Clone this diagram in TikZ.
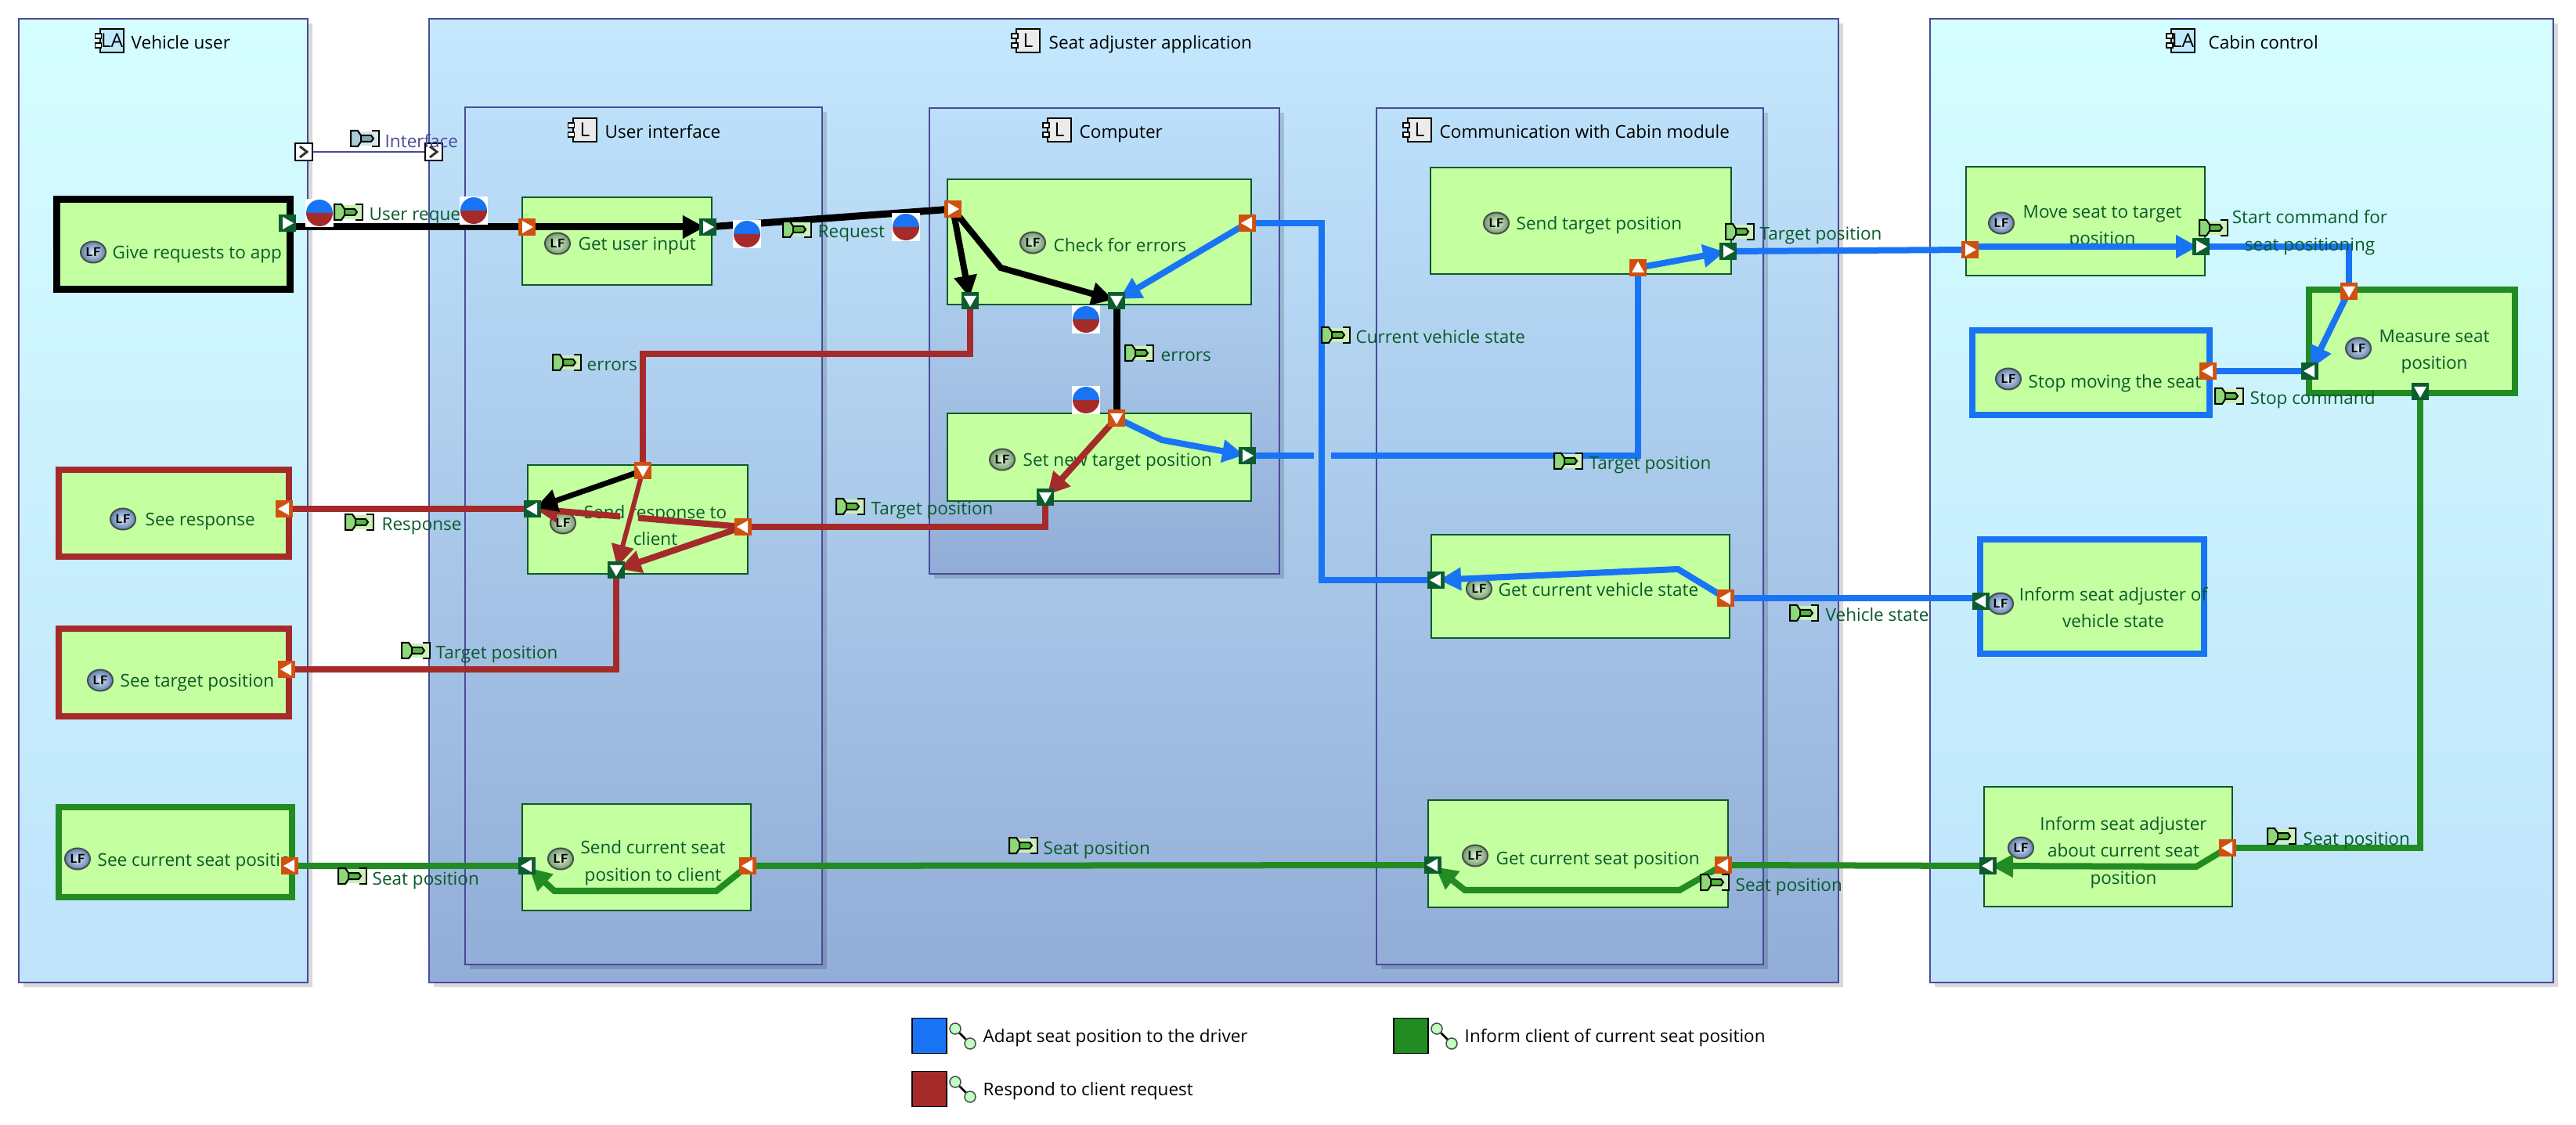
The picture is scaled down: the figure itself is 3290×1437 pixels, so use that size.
\documentclass[tikz,border=0pt]{standalone}
\usepackage{fontspec}
\setmainfont{Open Sans}
\usetikzlibrary{arrows.meta,calc,shapes.geometric}
\definecolor{fnfill}{HTML}{C4FFA0}
\definecolor{fntxt}{HTML}{0A5A2A}
\definecolor{cborder}{HTML}{4A4A9A}
\definecolor{cblue}{HTML}{1874F5}
\definecolor{cred}{HTML}{A52A2A}
\definecolor{cgreen}{HTML}{228B22}
\definecolor{portg}{HTML}{0C5C30}
\definecolor{porto}{HTML}{D05010}
\definecolor{cyanTop}{HTML}{D5FEFF}
\definecolor{cyanBot}{HTML}{BEE3FB}
\definecolor{blueTop}{HTML}{C4E8FE}
\definecolor{blueBot}{HTML}{92ADD7}
\definecolor{inTop}{HTML}{BCE0FA}
\definecolor{LFgi}{HTML}{E2F3D8}
\definecolor{LFgo}{HTML}{6F9C6C}
\definecolor{LFbi}{HTML}{DCE9F6}
\definecolor{LFbo}{HTML}{5F80AE}
\definecolor{xpale}{HTML}{CDEFBA}
\definecolor{xmid}{HTML}{8FD87A}
\definecolor{xbar}{HTML}{56B83F}
\definecolor{ipale}{HTML}{D6E6EC}
\definecolor{imid}{HTML}{A8CCD8}
\definecolor{ibar}{HTML}{7FA8B8}
\tikzset{
 contA/.style={draw=cborder,line width=0.02cm,inner sep=0,top color=#1},
 ctCyan/.style={contA=cyanTop,bottom color=cyanBot},
 ctBlue/.style={contA=blueTop,bottom color=blueBot},
 ctIn/.style={contA=inTop,bottom color=blueBot},
 fnthin/.style={draw=fntxt,fill=fnfill,line width=0.025cm,inner sep=0},
 fnblk/.style={draw=black,fill=fnfill,line width=0.09cm,inner sep=0},
 fnred/.style={draw=cred,fill=fnfill,line width=0.08cm,inner sep=0},
 fnblu/.style={draw=cblue,fill=fnfill,line width=0.08cm,inner sep=0},
 fngrn/.style={draw=cgreen,fill=fnfill,line width=0.08cm,inner sep=0},
 lbl/.style={inner sep=0,text=fntxt,font=\fontsize{6.4}{9.8}\selectfont},
 ttl/.style={inner sep=0,text=black,font=\fontsize{6.4}{9.8}\selectfont},
 ifl/.style={inner sep=0,text=cborder,font=\fontsize{6.4}{9.8}\selectfont},
 portbox/.style={inner sep=0,minimum size=0.22cm,draw=none},
 lfnode/.style={ellipse,draw=black!70,line width=0.02cm,inner sep=0,minimum width=0.32cm,minimum height=0.27cm,text=black,font=\bfseries\sffamily\fontsize{4.6}{5}\selectfont},
 lfg/.style={lfnode,inner color=LFgi,outer color=LFgo},
 lfb/.style={lfnode,inner color=LFbi,outer color=LFbo},
 wireK/.style={draw=black,line width=0.09cm,line join=miter},
 wireB/.style={draw=cblue,line width=0.08cm,line join=miter},
 wireR/.style={draw=cred,line width=0.08cm,line join=miter},
 wireG/.style={draw=cgreen,line width=0.08cm,line join=miter},
 tipd/.style={-{Triangle[length=0.28cm,width=0.28cm]},shorten >=0.04cm},
 shad/.style={fill=black,opacity=0.15},
}
\newcommand\myCont[6]{%
 \fill[shad] (#3+6,#4+6) rectangle (#5+6,#6+6);
 \pgfmathsetmacro\myWd{(#5-#3)*0.01}\pgfmathsetmacro\myHt{(#6-#4)*0.01}%
 \node[#2,minimum width=\myWd cm,minimum height=\myHt cm] (#1) at ({(#3+#5)/2},{(#4+#6)/2}) {};}
\newcommand\myFn[6]{%
 \pgfmathsetmacro\myWd{(#5-#3)*0.01}\pgfmathsetmacro\myHt{(#6-#4)*0.01}%
 \node[#2,minimum width=\myWd cm,minimum height=\myHt cm] (#1) at ({(#3+#5)/2},{(#4+#6)/2}) {};}
\newcommand\myTw[5][lbl]{\node[#1,anchor=base west] (#2) at (#3,#4+9) {#5};}
\newcommand\myTc[4]{\node[lbl,align=center] (#1) at (#2,#3+2) {#4};}
\newcommand\myPort[5]{\node[portbox,fill=#4] (#1) at (#2,#3) {};
 \fill[white,shift={(#1.center)},rotate=#5] (-6,-8) -- (8,0) -- (-6,8) -- cycle;}
\newcommand\myIfPort[3]{\node[portbox,draw=black,fill=white,line width=0.02cm] (#1) at (#2,#3) {};
 \draw[black!80,line width=0.03cm,shift={(#1.center)}] (-5,-7) -- (4,0) -- (-5,7);}
\newcommand\myXicon[6]{\node[inner sep=0,minimum width=0.36cm,minimum height=0.2cm] (#1) at (#2,#3) {};
 \begin{scope}[shift={(#1.center)},line width=0.02cm,draw=black]
 \fill[#4] (-17,-9) rectangle (17,9);
 \filldraw[fill=#5] (-18,-10) -- (-9,-10) -- (-5,-4) -- (-5,4) -- (-9,10) -- (-18,10) -- cycle;
 \filldraw[fill=#6] (-5,-4) -- (8,-4) -- (11,0) -- (8,4) -- (-5,4) -- cycle;
 \draw[line width=0.025cm] (9,-10) -- (18,-10) -- (18,10) -- (9,10);
 \end{scope}}
\newcommand\myXl[5]{\myXicon{#1}{#2}{#3}{xpale}{xmid}{xbar}
 \node[lbl,anchor=base west] (#1t) at (#4,#3+11) {#5};}
\newcommand\myLF[4]{\node[#4] (#1) at (#2,#3) {LF};}
\newcommand\myCi[5]{\node[inner sep=0,minimum size=0.3cm,draw=black,line width=0.025cm,fill=#5,font=\fontsize{7}{8}\selectfont] (#1) at (#2,#3) {#4};
 \filldraw[fill=white,draw=black,line width=0.015cm,shift={(#1.west)}] (-5,-9) rectangle (3,-3) (-5,3) rectangle (3,9);}
\newcommand\myMark[3]{\node[inner sep=0,minimum width=0.36cm,minimum height=0.36cm,fill=white] (#1) at (#2,#3) {};
 \fill[cblue,shift={(#1.center)}] (-17,0) arc[start angle=180,end angle=0,radius=0.17cm] -- cycle;
 \fill[cred,shift={(#1.center)}] (-17,0) arc[start angle=180,end angle=360,radius=0.17cm] -- cycle;}
\newcommand\myLeg[5]{\node[inner sep=0,minimum width=0.44cm,minimum height=0.45cm,draw=black,line width=0.018cm,fill=#5] (#1) at (#2,#3) {};
 \node[inner sep=0,minimum size=0.14cm,ellipse,draw=black!70,fill=green!25,line width=0.015cm] (#1a) at (#2+33,#3-9) {};
 \node[inner sep=0,minimum size=0.14cm,ellipse,draw=black!70,fill=green!25,line width=0.015cm] (#1b) at (#2+52,#3+10) {};
 \draw[black,line width=0.025cm] (#1a) -- (#1b);
 \node[ttl,anchor=base west] (#1t) at (#2+68,#3+8) {#4};}
\begin{document}
\begin{tikzpicture}[x=0.01cm,y=-0.01cm]
\useasboundingbox (0,0) rectangle (3290,1437);
\fill[white] (0,0) rectangle (3290,1437);
% containers
\myCont{cVU}{ctCyan}{24}{24}{393}{1255}
\myCont{cApp}{ctBlue}{548}{24}{2348}{1255}
\myCont{cCab}{ctCyan}{2465}{24}{3261}{1255}
\myCont{cUI}{ctIn}{594}{137}{1050}{1232}
\myCont{cCo}{ctIn}{1187}{138}{1634}{733}
\myCont{cCm}{ctIn}{1758}{138}{2252}{1232}
% titles
\myCi{iVU}{143}{52}{LA}{cyan!25}\myTw[ttl]{tVU}{167}{54}{Vehicle user}
\myCi{iApp}{1313}{52}{L}{black!8}\myTw[ttl]{tApp}{1339}{54}{Seat adjuster application}
\myCi{iCab}{2788}{52}{LA}{cyan!25}\myTw[ttl]{tCab}{2820}{54}{Cabin control}
\myCi{iUI}{747}{166}{L}{black!8}\myTw[ttl]{tUI}{772}{168}{User interface}
\myCi{iCo}{1353}{166}{L}{black!8}\myTw[ttl]{tCo}{1378}{168}{Computer}
\myCi{iCm}{1813}{166}{L}{black!8}\myTw[ttl]{tCm}{1838}{168}{Communication with Cabin module}
% functions
\myFn{fGive}{fnblk}{73}{255}{370}{370}
\myFn{fGet}{fnthin}{667}{252}{909}{364}
\myFn{fCheck}{fnthin}{1210}{229}{1598}{389}
\myFn{fSet}{fnthin}{1210}{528}{1598}{640}
\myFn{fResp}{fnthin}{674}{594}{955}{733}
\myFn{fSendT}{fnthin}{1827}{214}{2211}{350}
\myFn{fGetV}{fnthin}{1828}{683}{2209}{815}
\myFn{fGetS}{fnthin}{1824}{1022}{2207}{1159}
\myFn{fSendC}{fnthin}{667}{1027}{959}{1163}
\myFn{fSeeR}{fnred}{75}{600}{369}{711}
\myFn{fSeeT}{fnred}{75}{803}{369}{915}
\myFn{fSeeC}{fngrn}{75}{1031}{373}{1146}
\myFn{fMove}{fnthin}{2511}{213}{2816}{352}
\myFn{fStop}{fnblu}{2519}{422}{2822}{530}
\myFn{fMeas}{fngrn}{2949}{370}{3212}{502}
\myFn{fInfV}{fnblu}{2529}{689}{2815}{835}
\myFn{fInfS}{fnthin}{2534}{1005}{2851}{1158}
% function texts and icons
\myLF{lGive}{119}{322}{lfb}\myTw{xGive}{143}{322}{Give requests to app}
\myLF{lGet}{712}{311}{lfg}\myTw{xGet}{738}{311}{Get user input}
\myLF{lCheck}{1319}{310}{lfg}\myTw{xCheck}{1345}{313}{Check for errors}
\myLF{lSet}{1280}{587}{lfg}\myTw{xSet}{1306}{587}{Set new target position}
\myLF{lResp}{719}{668}{lfg}\myTc{xResp}{837}{669}{Send response to\\client}
\myLF{lSendT}{1911}{285}{lfg}\myTw{xSendT}{1936}{285}{Send target position}
\myLF{lGetV}{1889}{752}{lfg}\myTw{xGetV}{1913}{753}{Get current vehicle state}
\myLF{lGetS}{1884}{1093}{lfg}\myTw{xGetS}{1910}{1095}{Get current seat position}
\myLF{lSendC}{716}{1097}{lfg}\myTc{xSendC}{834}{1100}{Send current seat\\position to client}
\myLF{lSeeR}{157}{663}{lfb}\myTw{xSeeR}{185}{663}{See response}
\myLF{lSeeT}{128}{869}{lfb}\myTw{xSeeT}{153}{869}{See target position}
\begin{scope}
\clip (75,1031) rectangle (373,1146);
\myLF{lSeeC}{99}{1097}{lfb}\myTw{xSeeC}{124}{1097}{See current seat position}
\end{scope}
\myLF{lMove}{2556}{285}{lfb}\myTc{xMove}{2685}{288}{Move seat to target\\position}
\myLF{lStop}{2565}{484}{lfb}\myTw{xStop}{2590}{487}{Stop moving the seat}
\myLF{lMeas}{3012}{445}{lfb}\myTc{xMeas}{3109}{447}{Measure seat\\position}
\myLF{lInfV}{2555}{771}{lfb}\myTc{xInfV}{2699}{774}{Inform seat adjuster of\\vehicle state}
\myLF{lInfS}{2581}{1083}{lfb}\myTc{xInfS}{2712}{1087}{Inform seat adjuster\\about current seat\\position}
% port anchors
\coordinate (aGiveO) at (367,285);
\coordinate (aGetI) at (673,290);
\coordinate (aGetO) at (904,290);
\coordinate (aChkI) at (1217,267);
\coordinate (aChkA) at (1239,384);
\coordinate (aChkB) at (1426,384);
\coordinate (aChkR) at (1593,285);
\coordinate (aSetT) at (1426,534);
\coordinate (aSetR) at (1593,582);
\coordinate (aSetB) at (1335,635);
\coordinate (aRspT) at (821,601);
\coordinate (aRspL) at (680,650);
\coordinate (aRspR) at (949,673);
\coordinate (aRspB) at (787,728);
\coordinate (aSeeR) at (363,650);
\coordinate (aSeeT) at (366,855);
\coordinate (aSeeC) at (370,1106);
\coordinate (aCurL) at (673,1106);
\coordinate (aCurR) at (955,1106);
\coordinate (aGsL) at (1830,1105);
\coordinate (aGsR) at (2201,1105);
\coordinate (aIsL) at (2539,1106);
\coordinate (aIsR) at (2845,1083);
\coordinate (aGvL) at (1834,741);
\coordinate (aGvR) at (2204,764);
\coordinate (aIvL) at (2530,768);
\coordinate (aStB) at (2092,342);
\coordinate (aStR) at (2207,321);
\coordinate (aMvI) at (2516,319);
\coordinate (aMvO) at (2811,315);
\coordinate (aMeT) at (3000,372);
\coordinate (aMeL) at (2950,474);
\coordinate (aMeB) at (3091,500);
\coordinate (aStp) at (2820,474);
% way points
\coordinate (wChk) at (1278,342);
\coordinate (wRa) at (1239,452);
\coordinate (wRb) at (821,452);
\coordinate (wBa) at (1688,285);
\coordinate (wBb) at (1688,741);
\coordinate (wSet) at (1484,562);
\coordinate (wGapL) at (1678,582);
\coordinate (wGapR) at (1700,582);
\coordinate (wGv) at (2143,727);
\coordinate (wIs) at (2805,1107);
\coordinate (wGsA) at (2145,1137);
\coordinate (wGsB) at (1871,1137);
\coordinate (wCuA) at (915,1138);
\coordinate (wCuB) at (708,1138);
% connectors: black
\draw[wireK] (aGiveO |- aGetI) -- (aGetI);
\draw[wireK,tipd] (aGetI) -- (aGetO);
\draw[wireK] (aGetO) -- (aChkI);
\draw[wireK,line width=0.08cm,tipd] (aChkI) -- (aChkA);
\draw[wireK,line width=0.08cm,tipd] (aChkI) -- (wChk) -- (aChkB);
\draw[wireK] (aChkB) -- (aSetT);
% red
\draw[wireR] (aChkA) -- (wRa) -- (wRb) -- (aRspT);
\draw[wireR,tipd] (aSetT) -- (aSetB);
\draw[wireR] (aSetB) |- (aRspR);
\draw[wireR,line width=0.06cm,tipd] (aRspT) -- (aRspB);
\draw[wireR,tipd] (aRspR) -- (aRspB);
\draw[wireR] (aRspR) -- ($(aRspR)!0.498!(aRspL)$);
\draw[wireR,tipd] ($(aRspR)!0.584!(aRspL)$) -- (aRspL);
\draw[wireK,line width=0.07cm,tipd] (aRspT) -- (aRspL);
\draw[wireR] (aRspL) -- (aSeeR);
\draw[wireR] (aRspB) |- (aSeeT);
% blue
\draw[wireB,tipd] (aChkR) -- (aChkB);
\draw[wireB] (aChkR) -- (wBa) -- (wBb) -- (aGvL);
\draw[wireB,tipd] (aGvR) -- (wGv) -- (aGvL);
\draw[wireB] (aGvR -| aIvL) -- (aGvR);
\draw[wireB,tipd] (aSetT) -- (wSet) -- (aSetR);
\draw[wireB] (aSetR) -- (wGapL);
\draw[wireB] (wGapR) -| (aStB);
\draw[wireB,tipd] (aStB) -- (aStR);
\draw[wireB] (aStR) -- (aMvI);
\draw[wireB,tipd] (aMvO -| aMvI) -- (aMvO);
\draw[wireB] (aMvO) -| (aMeT);
\draw[wireB,tipd] (aMeT) -- (aMeL);
\draw[wireB] (aMeL) -- (aStp);
% green
\draw[wireG] (aMeB) |- (aIsR);
\draw[wireG,tipd] (aIsR) -- (wIs) -- (aIsL);
\draw[wireG] (aIsL) -- (aGsR);
\draw[wireG,tipd] (aGsR) -- (wGsA) -- (wGsB) -- (aGsL);
\draw[wireG] (aGsL) -- (aCurR);
\draw[wireG,tipd] (aCurR) -- (wCuA) -- (wCuB) -- (aCurL);
\draw[wireG] (aCurL) -- (aSeeC);
% interface
\myIfPort{pIfA}{388}{194}
\myIfPort{pIfB}{554}{194}
\draw[draw=cborder,line width=0.025cm] (pIfA) -- (pIfB);
\myXicon{xiIf}{466}{177}{ipale}{imid}{ibar}
\myTw[ifl]{tIf}{491}{180}{Interface}
% exchange labels
\myXl{xUR}{445}{271}{471}{User request}
\myXl{xRq}{1018}{293}{1044}{Request}
\myXl{xEa}{724}{463}{749}{errors}
\myXl{xEb}{1455}{451}{1482}{errors}
\myXl{xCv}{1706}{428}{1731}{Current vehicle state}
\myXl{xTa}{2222}{296}{2247}{Target position}
\myXicon{xSc}{2827}{291}{xpale}{xmid}{xbar}
\myTc{tSc}{2950}{295}{Start command for\\seat positioning}
\myXl{xTb}{2003}{589}{2029}{Target position}
\myXl{xRs}{459}{667}{487}{Response}
\myXl{xTc}{1086}{647}{1112}{Target position}
\myXl{xTd}{531}{831}{556}{Target position}
\myXl{xVs}{2304}{783}{2331}{Vehicle state}
\myXl{xSp}{2847}{506}{2873}{Stop command}
\myXl{xPa}{450}{1119}{475}{Seat position}
\myXl{xPb}{1307}{1080}{1332}{Seat position}
\myXl{xPc}{2190}{1127}{2216}{Seat position}
\myXl{xPd}{2914}{1068}{2941}{Seat position}
% ports
\myPort{pGiveO}{367}{285}{portg}{0}
\myPort{pGetI}{673}{290}{porto}{0}
\myPort{pGetO}{904}{290}{portg}{0}
\myPort{pChkI}{1217}{267}{porto}{0}
\myPort{pChkA}{1239}{384}{portg}{270}
\myPort{pChkB}{1426}{384}{portg}{270}
\myPort{pChkR}{1593}{285}{porto}{180}
\myPort{pSetT}{1426}{534}{porto}{270}
\myPort{pSetR}{1593}{582}{portg}{0}
\myPort{pSetB}{1335}{635}{portg}{270}
\myPort{pRspT}{821}{601}{porto}{270}
\myPort{pRspL}{680}{650}{portg}{180}
\myPort{pRspR}{949}{673}{porto}{180}
\myPort{pRspB}{787}{728}{portg}{270}
\myPort{pSeeR}{363}{650}{porto}{180}
\myPort{pSeeT}{366}{855}{porto}{180}
\myPort{pSeeC}{370}{1106}{porto}{180}
\myPort{pCurL}{673}{1106}{portg}{180}
\myPort{pCurR}{955}{1106}{porto}{180}
\myPort{pGsL}{1830}{1105}{portg}{180}
\myPort{pGsR}{2201}{1105}{porto}{180}
\myPort{pIsL}{2539}{1106}{portg}{180}
\myPort{pIsR}{2845}{1083}{porto}{180}
\myPort{pGvL}{1834}{741}{portg}{180}
\myPort{pGvR}{2204}{764}{porto}{180}
\myPort{pIvL}{2530}{768}{portg}{180}
\myPort{pStB}{2092}{342}{porto}{90}
\myPort{pStR}{2207}{321}{portg}{0}
\myPort{pMvI}{2516}{319}{porto}{0}
\myPort{pMvO}{2811}{315}{portg}{0}
\myPort{pMeT}{3000}{372}{porto}{270}
\myPort{pMeL}{2950}{474}{portg}{180}
\myPort{pMeB}{3091}{500}{portg}{270}
\myPort{pStp}{2820}{474}{porto}{180}
% markers
\myMark{m1}{408}{272}
\myMark{m2}{605}{269}
\myMark{m3}{954}{299}
\myMark{m4}{1157}{290}
\myMark{m5}{1387}{408}
\myMark{m6}{1387}{511}
% legend
\myLeg{lgA}{1187}{1323}{Adapt seat position to the driver}{cblue}
\myLeg{lgB}{1802}{1323}{Inform client of current seat position}{cgreen}
\myLeg{lgC}{1187}{1391}{Respond to client request}{cred}
\end{tikzpicture}
\end{document}
